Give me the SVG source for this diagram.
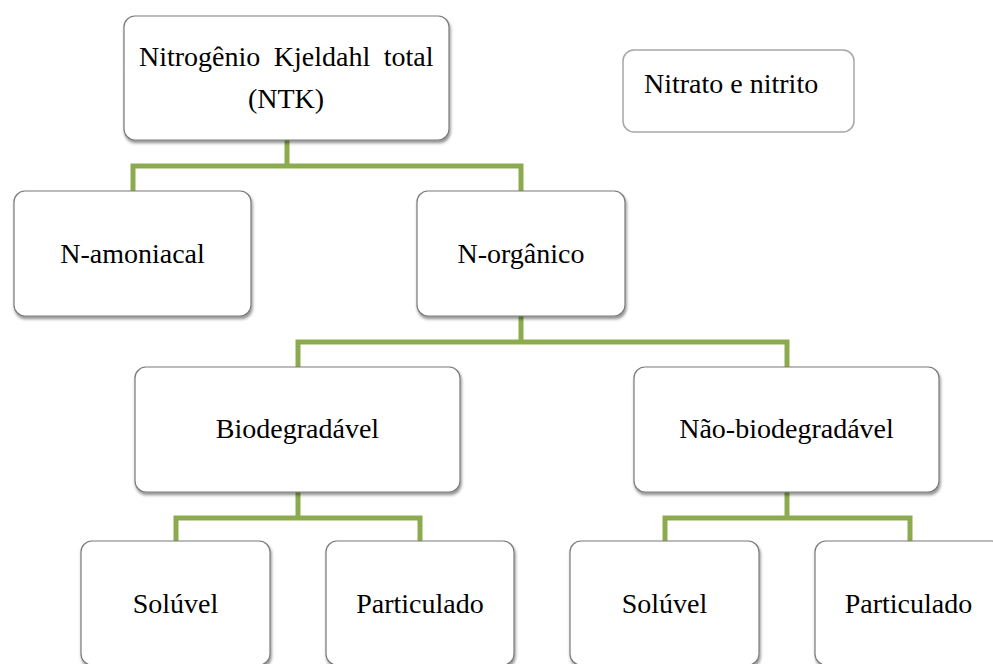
<svg xmlns="http://www.w3.org/2000/svg" width="993" height="664" viewBox="0 0 993 664">
<defs>
<style>
.box{fill:#ffffff;stroke:#7a7a7a;stroke-width:1.2;filter:url(#sh)}
.plain{fill:#ffffff;stroke:#a6a6a6;stroke-width:1.5}
.t{font-family:"Liberation Serif","Times New Roman",serif;font-size:28px;fill:#000000;text-anchor:middle}
.conn{fill:none;stroke:#8cab4e;stroke-width:5;stroke-linejoin:miter;stroke-linecap:butt}
</style>
<filter id="sh" x="-10%" y="-10%" width="120%" height="130%">
<feDropShadow dx="1" dy="2.5" stdDeviation="1.8" flood-color="#000000" flood-opacity="0.45"/>
</filter>
</defs>
<rect width="993" height="664" fill="#ffffff"/>
<g id="connectors">
<path class="conn" d="M287 140 V166 M133 191 V166 H521 V191"/>
<path class="conn" d="M521 316 V342 M298 367 V342 H787 V367"/>
<path class="conn" d="M298 492 V518 M176 542 V518 H420 V542"/>
<path class="conn" d="M787 492 V518 M665 542 V518 H910 V542"/>
</g>
<g id="ntk">
<rect class="box" x="124" y="16" width="325" height="124" rx="11"/>
<text class="t" x="139" y="66" style="text-anchor:start" word-spacing="6.5">Nitrogênio Kjeldahl total</text>
<text class="t" x="286" y="108">(NTK)</text>
</g>
<g id="nitrato">
<rect class="plain" x="623" y="50" width="231" height="82" rx="11"/>
<text class="t" x="644" y="93" style="text-anchor:start">Nitrato e nitrito</text>
</g>
<g id="n-amoniacal">
<rect class="box" x="14" y="191" width="237" height="125" rx="11"/>
<text class="t" x="132.5" y="263">N-amoniacal</text>
</g>
<g id="n-organico">
<rect class="box" x="417" y="191" width="208" height="125" rx="11"/>
<text class="t" x="521" y="263">N-orgânico</text>
</g>
<g id="biodegradavel">
<rect class="box" x="135" y="367" width="325" height="125" rx="11"/>
<text class="t" x="297.5" y="438">Biodegradável</text>
</g>
<g id="nao-biodegradavel">
<rect class="box" x="634" y="367" width="305" height="125" rx="11"/>
<text class="t" x="786.5" y="438">Não-biodegradável</text>
</g>
<g id="soluvel-1">
<rect class="box" x="81" y="541" width="189" height="124" rx="11"/>
<text class="t" x="175.5" y="613">Solúvel</text>
</g>
<g id="particulado-1">
<rect class="box" x="326" y="541" width="188" height="124" rx="11"/>
<text class="t" x="420" y="613">Particulado</text>
</g>
<g id="soluvel-2">
<rect class="box" x="570" y="541" width="189" height="124" rx="11"/>
<text class="t" x="664.5" y="613">Solúvel</text>
</g>
<g id="particulado-2">
<rect class="box" x="815" y="541" width="188" height="124" rx="11"/>
<text class="t" x="908.5" y="613">Particulado</text>
</g>
</svg>
